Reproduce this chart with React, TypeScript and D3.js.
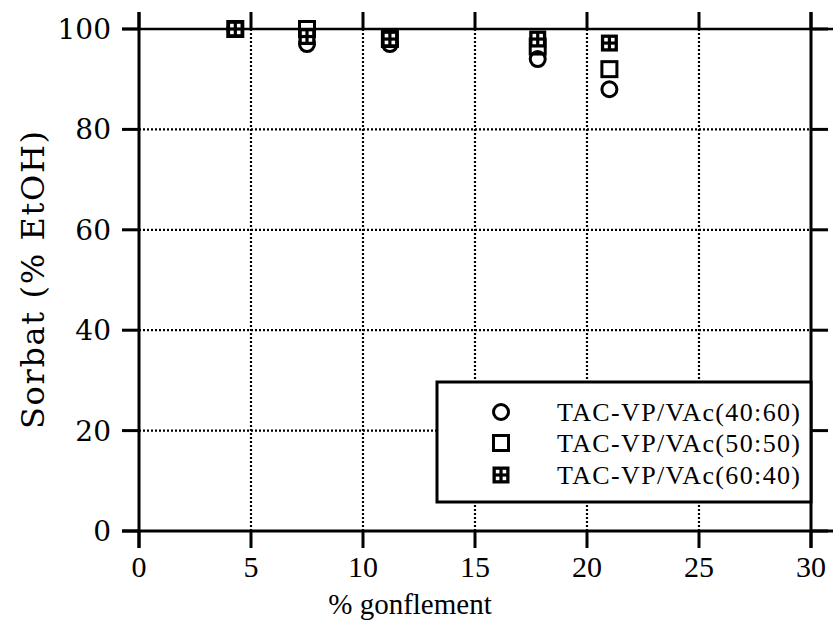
import React from "react";
import * as d3 from "d3";

const xTicks = [0, 5, 10, 15, 20, 25, 30];
const yTicks = [0, 20, 40, 60, 80, 100];
const seriesNames = ["TAC-VP/VAc(40:60)", "TAC-VP/VAc(50:50)", "TAC-VP/VAc(60:40)"];
const swelling = [4.3, 7.5, 11.2, 17.8, 21.0];
const sorbat4060 = [100, 97, 97, 94, 88];
const sorbat5050 = [100, 100, 98, 96.5, 92];
const sorbat6040 = [100, 98.5, 98, 98, 97.2];
const xTitle = "% gonflement";
const yTitle = "Sorbat  (% EtOH)";

const W = 833;
const H = 639;
const x = d3.scaleLinear().domain([0, 30]).range([139, 811]);
const y = d3.scaleLinear().domain([0, 100]).range([531, 29]);

const MS = 17; // marker size
const SW = 3;

function Marker({ kind, cx, cy }: { kind: number; cx: number; cy: number }) {
  const h = MS / 2;
  if (kind === 0) {
    return <circle cx={cx} cy={cy} r={h - 1} fill="none" stroke="#000" strokeWidth={SW} />;
  }
  if (kind === 1) {
    return <rect x={cx - h + 1} y={cy - h + 1} width={MS - 2} height={MS - 2} fill="none" stroke="#000" strokeWidth={SW} />;
  }
  const d = 3.6;
  const g = 1.6;
  return (
    <g>
      <rect x={cx - h} y={cy - h} width={MS} height={MS} fill="#000" />
      <rect x={cx - g - d} y={cy - g - d} width={d} height={d} fill="#fff" />
      <rect x={cx + g} y={cy - g - d} width={d} height={d} fill="#fff" />
      <rect x={cx - g - d} y={cy + g} width={d} height={d} fill="#fff" />
      <rect x={cx + g} y={cy + g} width={d} height={d} fill="#fff" />
    </g>
  );
}

export default function App() {
  const series = [sorbat4060, sorbat5050, sorbat6040];
  const x0 = x(0), x1 = x(30), y0 = y(0), y1 = y(100);
  const tl = 17;
  const legendRows = [412, 443, 475];
  return (
    <svg width={W} height={H} style={{ position: "absolute", left: 0, top: 0, background: "#fff" }}>
      <rect width={W} height={H} fill="#fff" />
      {/* dotted grid */}
      {xTicks.filter((t) => t > 0 && t < 30).map((t) => (
        <line key={"gx" + t} x1={x(t)} x2={x(t)} y1={y1} y2={y0} stroke="#000" strokeWidth={2.2} strokeDasharray="2,2" />
      ))}
      {yTicks.filter((t) => t > 0 && t < 100).map((t) => (
        <line key={"gy" + t} x1={x0} x2={x1} y1={y(t)} y2={y(t)} stroke="#000" strokeWidth={2.2} strokeDasharray="2,2" />
      ))}
      {/* frame */}
      <line x1={x0} x2={x0} y1={y1 - tl} y2={y0 + tl} stroke="#000" strokeWidth={SW} />
      <line x1={x1} x2={x1} y1={y1 - tl} y2={y0 + tl} stroke="#000" strokeWidth={SW} />
      <line x1={x0 - tl} x2={x1 + tl + 10} y1={y0} y2={y0} stroke="#000" strokeWidth={SW} />
      <line x1={x0 - tl} x2={x1 + tl + 10} y1={y1} y2={y1} stroke="#000" strokeWidth={2.5} />
      {/* ticks */}
      {xTicks.map((t) => (
        <g key={"tx" + t}>
          <line x1={x(t)} x2={x(t)} y1={y1 - tl} y2={y1} stroke="#000" strokeWidth={SW} />
          <line x1={x(t)} x2={x(t)} y1={y0} y2={y0 + tl} stroke="#000" strokeWidth={SW} />
          <text x={x(t)} y={577} textAnchor="middle" fontFamily="Liberation Serif" fontSize={30} fill="#000">{t}</text>
        </g>
      ))}
      {yTicks.map((t) => (
        <g key={"ty" + t}>
          <line x1={x0 - tl} x2={x0} y1={y(t)} y2={y(t)} stroke="#000" strokeWidth={SW} />
          <line x1={x1} x2={x1 + tl} y1={y(t)} y2={y(t)} stroke="#000" strokeWidth={SW} />
          <text x={111} y={y(t) + 10} textAnchor="end" fontFamily="DejaVu Serif" fontSize={28} fill="#000">{t}</text>
        </g>
      ))}
      {/* axis titles */}
      <text x={410} y={614} textAnchor="middle" fontFamily="Liberation Serif" fontSize={29} fill="#000">{xTitle}</text>
      <text transform={`translate(44,280) rotate(-90)`} textAnchor="middle" fontFamily="DejaVu Serif" fontSize={32} textLength={298} lengthAdjust="spacing" fill="#000">{yTitle}</text>
      {/* data */}
      {series.map((vals, si) => (
        <g key={"s" + si}>
          {vals.map((v, i) => (
            <Marker key={i} kind={si} cx={x(swelling[i])} cy={y(v)} />
          ))}
        </g>
      ))}
      {/* legend */}
      <rect x={437} y={382} width={x1 - 437} height={120} fill="#fff" stroke="#000" strokeWidth={SW} />
      {seriesNames.map((n, i) => (
        <g key={"l" + i}>
          <Marker kind={i} cx={501} cy={legendRows[i]} />
          <text x={557} y={legendRows[i] + 9} fontFamily="Liberation Serif" fontSize={26} textLength={243} lengthAdjust="spacing" fill="#000">{n}</text>
        </g>
      ))}
    </svg>
  );
}
